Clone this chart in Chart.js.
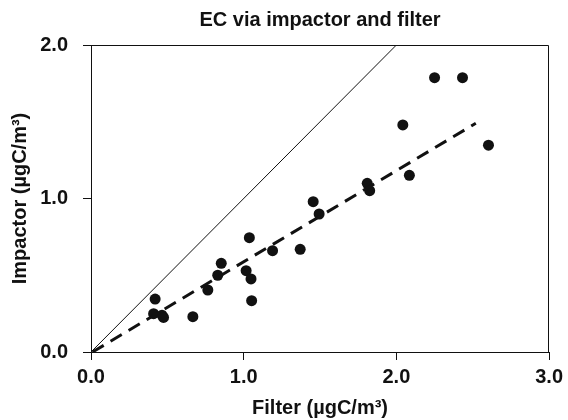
<!DOCTYPE html>
<html>
<head>
<meta charset="utf-8">
<script src="https://cdn.jsdelivr.net/npm/chart.js@4/dist/chart.umd.min.js"></script>
<style>
  body { margin: 0; background: #fff; }
  canvas { display: block; }
</style>
</head>
<body>
<canvas id="ecChart" width="568" height="420"></canvas>
<script>
// Measurements: filter EC (x) vs impactor EC (y), µgC/m³
const filterValues   = [0.42, 0.41, 0.465, 0.475, 0.667, 0.765, 0.83, 0.853, 1.016, 1.037, 1.048, 1.052, 1.189, 1.37, 1.455, 1.494, 1.809, 1.825, 2.042, 2.085, 2.25, 2.433, 2.603];
const impactorValues = [0.345, 0.25, 0.24, 0.225, 0.23, 0.404, 0.50, 0.578, 0.53, 0.745, 0.476, 0.334, 0.66, 0.669, 0.979, 0.899, 1.099, 1.051, 1.479, 1.151, 1.787, 1.787, 1.347];

// 1:1 line and the regression line (dashed)
const oneToOneX = [0, 2.0];
const oneToOneY = [0, 2.0];
const fitX = [0.01, 2.52];
const fitY = [0.0, 1.49];

// Tick labels
const xTicks = [0, 1, 2, 3];
const yTicks = [0, 1, 2];

const FONT = '"Liberation Sans", Arial, Helvetica, sans-serif';
const INK = '#111';

function toPoints(xs, ys) {
    return xs.map((x, i) => ({ x: x, y: ys[i] }));
}

// Top and right sides of the frame
const framePlugin = {
    id: 'frame',
    afterDatasetsDraw(chart) {
        const { ctx, chartArea: a } = chart;
        ctx.save();
        ctx.strokeStyle = INK;
        ctx.lineWidth = 1;
        ctx.beginPath();
        const top = Math.round(a.top) + 0.5;
        const right = Math.round(a.right) - 0.5;
        ctx.moveTo(a.left, top);
        ctx.lineTo(right, top);
        ctx.lineTo(right, a.bottom);
        ctx.stroke();
        ctx.restore();
    }
};

new Chart(document.getElementById('ecChart'), {
    type: 'scatter',
    data: {
        datasets: [
            {
                type: 'line',
                data: toPoints(oneToOneX, oneToOneY),
                borderColor: INK,
                borderWidth: 1,
                pointRadius: 0,
                fill: false
            },
            {
                type: 'line',
                data: toPoints(fitX, fitY),
                borderColor: INK,
                borderWidth: 3,
                borderDash: [13, 8],
                pointRadius: 0,
                fill: false
            },
            {
                data: toPoints(filterValues, impactorValues),
                backgroundColor: INK,
                borderWidth: 0,
                pointRadius: 5.5
            }
        ]
    },
    options: {
        responsive: false,
        devicePixelRatio: 1,
        animation: false,
        layout: { padding: { left: 0, right: 17, top: 0, bottom: 0 } },
        plugins: {
            legend: { display: false },
            tooltip: { enabled: false },
            title: {
                display: true,
                text: 'EC via impactor and filter',
                fullSize: false,
                color: INK,
                font: { family: FONT, size: 20, weight: 'bold' },
                padding: { top: 8, bottom: 13 }
            }
        },
        scales: {
            x: {
                type: 'linear',
                min: 0,
                max: 3,
                afterFit: s => { s.height = 68; },
                afterBuildTicks: s => { s.ticks = xTicks.map(v => ({ value: v })); },
                grid: { drawOnChartArea: false, drawTicks: true, tickLength: 8, color: INK },
                border: { display: true, color: INK, width: 1 },
                ticks: {
                    color: INK,
                    padding: 5,
                    maxRotation: 0,
                    font: { family: FONT, size: 20, weight: 'bold' },
                    callback: v => v.toFixed(1)
                },
                title: {
                    display: true,
                    text: 'Filter (µgC/m³)',
                    color: INK,
                    font: { family: FONT, size: 20, weight: 'bold' },
                    padding: { top: 0, bottom: 0 }
                }
            },
            y: {
                type: 'linear',
                min: 0,
                max: 2,
                afterFit: s => { s.width = 91; },
                afterBuildTicks: s => { s.ticks = yTicks.map(v => ({ value: v })); },
                grid: { drawOnChartArea: false, drawTicks: true, tickLength: 8, color: INK },
                border: { display: true, color: INK, width: 1 },
                ticks: {
                    color: INK,
                    padding: 15,
                    font: { family: FONT, size: 20, weight: 'bold' },
                    callback: v => v.toFixed(1)
                },
                title: {
                    display: true,
                    text: 'Impactor (µgC/m³)',
                    color: INK,
                    font: { family: FONT, size: 20, weight: 'bold' },
                    padding: { top: 8, bottom: 0 }
                }
            }
        }
    },
    plugins: [framePlugin]
});
</script>
</body>
</html>
